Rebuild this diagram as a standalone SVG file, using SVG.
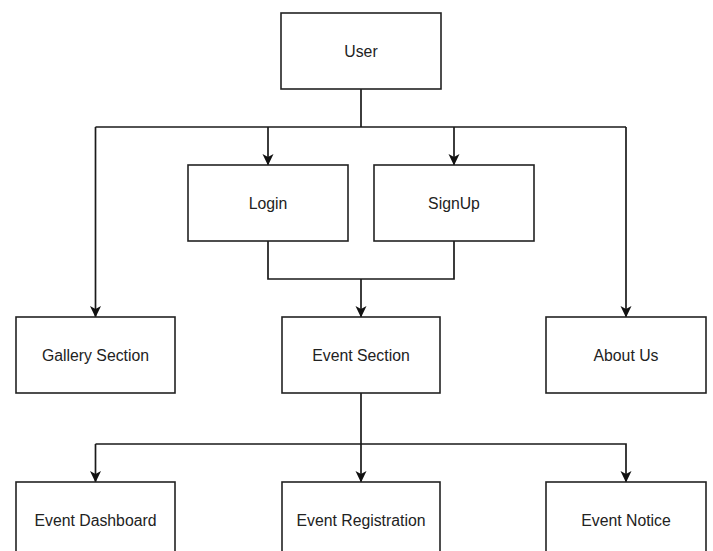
<svg xmlns="http://www.w3.org/2000/svg" width="713" height="551" viewBox="0 0 713 551">
<style>
.box{fill:#fff;stroke:#222;stroke-width:1.6}
.lbl{font-family:"Liberation Sans",Arial,sans-serif;font-size:15.8px;fill:#222;text-anchor:middle;dominant-baseline:central}
.edge{fill:none;stroke:#1a1a1a;stroke-width:1.7}
</style>
<defs>
<marker id="arr" markerWidth="14" markerHeight="14" viewBox="0 0 14 14" refX="12" refY="7" orient="auto" markerUnits="userSpaceOnUse">
<path d="M1,1.5 L12.5,7 L1,12.5 L4,7 Z" fill="#111"/>
</marker>
</defs>
<rect width="713" height="551" fill="#fff"/>
<g id="connectors">
<path class="edge" d="M361,89 V127"/>
<path class="edge" d="M95.5,127 H626"/>
<path class="edge" d="M95.5,127 V317" marker-end="url(#arr)"/>
<path class="edge" d="M268,127 V165" marker-end="url(#arr)"/>
<path class="edge" d="M454,127 V165" marker-end="url(#arr)"/>
<path class="edge" d="M626,127 V317" marker-end="url(#arr)"/>
<path class="edge" d="M268,241 V279 H454 V241"/>
<path class="edge" d="M361,279 V317" marker-end="url(#arr)"/>
<path class="edge" d="M361,393 V482" marker-end="url(#arr)"/>
<path class="edge" d="M95.5,444 H626 V482" marker-end="url(#arr)"/>
<path class="edge" d="M95.5,444 V482" marker-end="url(#arr)"/>
</g>
<g id="user"><rect class="box" x="281" y="13" width="160" height="76"/><text class="lbl" x="361" y="51">User</text></g>
<g id="login"><rect class="box" x="188" y="165" width="160" height="76"/><text class="lbl" x="268" y="203">Login</text></g>
<g id="signup"><rect class="box" x="374" y="165" width="160" height="76"/><text class="lbl" x="454" y="203">SignUp</text></g>
<g id="gallery"><rect class="box" x="16" y="317" width="159" height="76"/><text class="lbl" x="95.5" y="355">Gallery Section</text></g>
<g id="event-section"><rect class="box" x="282" y="317" width="158" height="76"/><text class="lbl" x="361" y="355">Event Section</text></g>
<g id="about"><rect class="box" x="546" y="317" width="160" height="76"/><text class="lbl" x="626" y="355">About Us</text></g>
<g id="dashboard"><rect class="box" x="16" y="482" width="159" height="76"/><text class="lbl" x="95.5" y="520">Event Dashboard</text></g>
<g id="registration"><rect class="box" x="282" y="482" width="158" height="76"/><text class="lbl" x="361" y="520">Event Registration</text></g>
<g id="notice"><rect class="box" x="546" y="482" width="160" height="76"/><text class="lbl" x="626" y="520">Event Notice</text></g>
</svg>
